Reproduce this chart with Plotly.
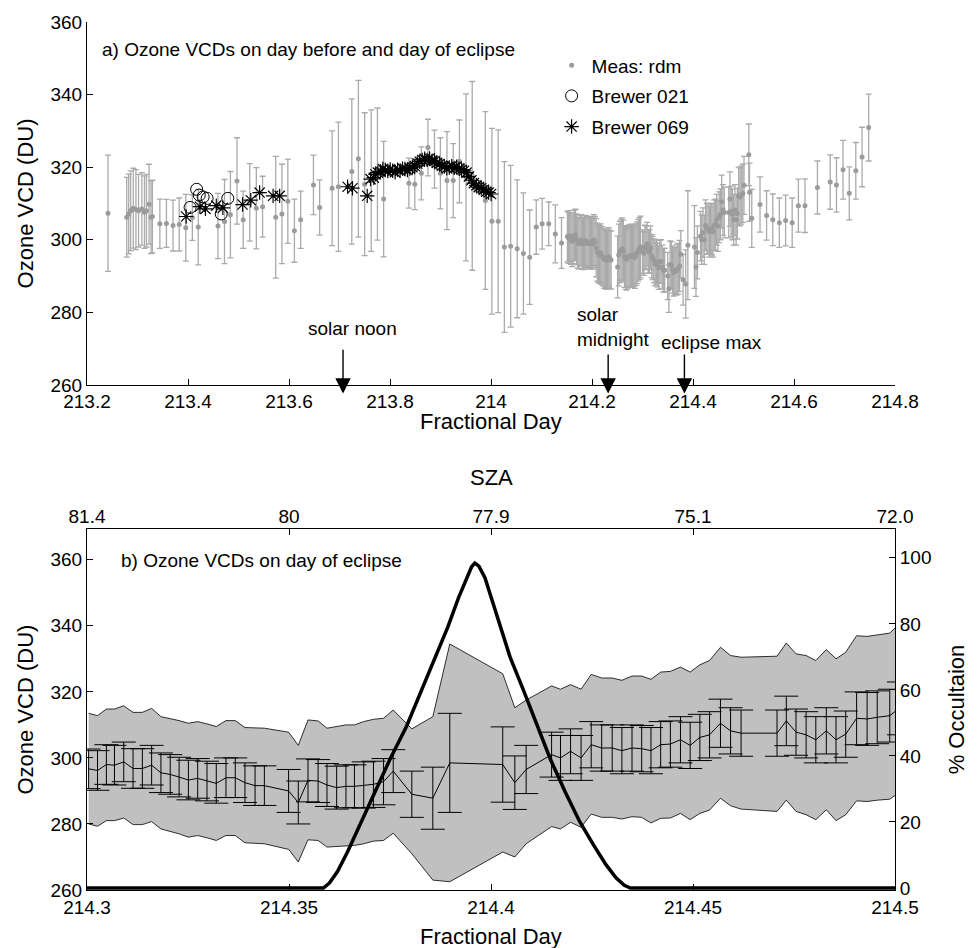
import plotly.graph_objects as go

# ---------------- Panel a: day before / day of eclipse (rdm measurements) ----------------
pre_x = [213.2416,
         213.2787, 213.2826, 213.2865, 213.2917, 213.2969, 213.3021, 213.3086, 213.3138, 213.3177, 213.3229, 213.3268, 213.3294,
         213.3443, 213.3573, 213.3703, 213.3826, 213.3956, 213.4086, 213.4203, 213.4593, 213.4723, 213.4840, 213.4970,
         213.5093, 213.5223, 213.5353, 213.5477, 213.5737, 213.5860, 213.5977, 213.6107, 213.6231, 213.6484, 213.6607,
         213.6854, 213.6978, 213.7244, 213.7374, 213.7498, 213.7628, 213.7751, 213.7874,
         213.8374, 213.8491, 213.8621, 213.8751, 213.8881, 213.8998, 213.9128, 213.9252, 213.9375, 213.9505, 213.9628,
         213.9888, 214.0018, 214.0142, 214.0265, 214.0389, 214.0519, 214.0642, 214.0766, 214.0896, 214.1013,
         214.1143, 214.1273, 214.1396,
         214.1513, 214.1536, 214.1559, 214.1582, 214.1604, 214.1627, 214.1650, 214.1673, 214.1695, 214.1718,
         214.1741, 214.1764, 214.1786, 214.1809, 214.1832, 214.1855, 214.1877, 214.1900, 214.1923, 214.1946,
         214.1968, 214.1991, 214.2014, 214.2037, 214.2059, 214.2082, 214.2105, 214.2128, 214.2150, 214.2173,
         214.2196, 214.2219, 214.2241, 214.2264, 214.2287, 214.2310, 214.2332, 214.2355, 214.2378,
         214.2507, 214.2530, 214.2553, 214.2576, 214.2598, 214.2621, 214.2644, 214.2667, 214.2689, 214.2712,
         214.2735, 214.2758, 214.2780, 214.2803, 214.2826, 214.2849, 214.2871, 214.2894, 214.2917, 214.2940, 214.2962]
pre_y = [307.3,
         306.2, 307.1, 308.0, 308.7, 308.3, 308.0, 308.5, 307.6, 308.0, 309.8, 306.2, 306.4,
         304.4, 304.5, 303.9, 304.2, 303.3, 306.1, 303.5, 303.8, 305.0, 306.9, 316.2,
         305.5, 310.3, 308.7, 309.1, 306.2, 307.1, 310.6, 302.5, 305.5, 315.1, 308.9,
         314.2, 314.6, 318.8, 322.3, 315.3, 316.3, 318.1, 311.2,
         315.6, 315.3, 318.3, 325.4, 322.2, 318.3, 316.3, 316.3, 321.6, 317.2, 317.6,
         310.8, 305.1, 305.1, 298.0, 298.2, 297.5, 296.2, 295.2, 303.5, 304.4,
         304.4, 301.6, 299.1,
         300.9, 300.5, 301.0, 300.2, 299.6, 300.4, 301.2, 301.4, 300.1, 299.2,
         298.9, 299.8, 299.9, 299.0, 298.8, 299.3, 299.7, 299.4, 298.9, 299.1,
         299.4, 299.0, 298.9, 299.9, 299.4, 297.8, 296.6, 296.2, 295.9, 296.4,
         295.6, 295.2, 294.6, 294.9, 294.3, 294.8, 295.3, 294.6, 294.4,
         292.5, 295.8, 296.6, 297.2, 297.5, 296.9, 295.4, 294.8, 294.6, 295.2,
         295.6, 295.7, 295.4, 295.8, 295.6, 295.1, 295.9, 296.4, 297.1, 297.6, 298.0]
pre_err = [16,
           11, 11, 11, 11, 11, 10, 10, 10, 10, 11, 10, 10,
           6.8, 6.6, 7, 7.3, 9.2, 6.3, 10.4, 9, 11.6, 11.9, 11.9,
           7.9, 10.7, 11.2, 8.4, 16.8, 13.7, 11.6, 8.7, 7.9, 8.2, 7.6,
           15.8, 17.8, 20, 21.6, 19.7, 19.5, 18.2, 15.9,
           6.9, 7, 7.3, 7.8, 8, 9.8, 13.5, 10.2, 11.4, 23, 26,
           24.5, 25.6, 25.2, 23.5, 22.3, 19, 16.7, 13, 7.5, 7,
           6, 8, 7,
           7, 7, 7, 7, 7, 7, 7, 7, 7, 7,
           7, 7, 7, 7, 7, 7, 7, 7, 7, 7,
           7, 7, 7, 7, 7, 8, 8, 8, 8, 8,
           8, 8, 8, 8, 8, 8, 8, 8, 8,
           8.5, 8.5, 8.5, 8.5, 8.5, 8.5, 8.5, 8.5, 8.5, 8.5,
           8.5, 8.5, 8.5, 8.5, 8.5, 8.5, 8.5, 8.5, 8.5, 8.5, 8.5]

post_x = [214.5106, 214.5119, 214.5164, 214.5327, 214.5457, 214.5580, 214.5710, 214.5834, 214.5964, 214.6087,
          214.6217, 214.6464, 214.6717, 214.6841, 214.6971, 214.7094, 214.7224, 214.7348, 214.7478]
post_y = [323.4, 313.1, 305.9, 309.7, 306.7, 305.5, 304.7, 305.3, 304.7, 309.4,
          309.4, 314.4, 315.9, 315.1, 319.3, 312.8, 319.0, 322.8, 330.9]
post_err = [8.5, 8, 8, 7.6, 6.8, 7.1, 6.8, 7, 6.8, 7.3,
            7.4, 7.3, 7.5, 7.5, 8.1, 7.3, 7.8, 8.2, 9.2]

brewer021_x = [213.4041, 213.4171, 213.4223, 213.4300, 213.4379, 213.4658, 213.4788]
brewer021_y = [308.9, 313.9, 312.3, 311.8, 311.4, 307.1, 311.4]

brewer069_x = [213.3963, 213.4236, 213.4346, 213.4560, 213.4691, 213.5080, 213.5243, 213.5418, 213.5685, 213.5815,
               213.7160, 213.7257, 213.7549, 213.7615, 213.7680,
               213.7712, 213.7761, 213.7809, 213.7858, 213.7907, 213.7956, 213.8004, 213.8053, 213.8102, 213.8151,
               213.8199, 213.8248, 213.8296, 213.8345, 213.8394, 213.8443, 213.8491, 213.8540, 213.8589, 213.8638,
               213.8686, 213.8735, 213.8784, 213.8833, 213.8881, 213.8930, 213.8979, 213.9028, 213.9076, 213.9125,
               213.9174, 213.9223, 213.9271, 213.9320, 213.9369, 213.9418, 213.9466, 213.9515, 213.9563, 213.9612,
               213.9661, 213.9710, 213.9758, 213.9807, 213.9856, 213.9905, 213.9953, 214.0002]
brewer069_y = [306.4, 309.1, 308.5, 309.4, 308.8, 309.7, 310.9, 313.0, 312.1, 312.1,
               314.6, 314.2, 312.1, 316.7, 317.1,
               318.0, 318.5, 318.8, 319.5, 319.2, 318.9, 319.4, 319.0, 318.6, 319.3,
               319.0, 319.6, 319.5, 319.2, 319.6, 320.0, 320.3, 321.0, 321.5, 322.0,
               322.3, 322.0, 322.4, 321.8, 321.7, 321.2, 320.9, 320.4, 320.2, 319.7,
               319.9, 320.3, 319.8, 320.1, 319.6, 319.3, 319.0, 318.5, 317.4, 316.4,
               315.6, 315.0, 314.5, 314.2, 313.8, 313.2, 313.0, 312.6]

# ---------------- Panel b: day of eclipse ----------------
day_x = [214.3004, 214.3026, 214.3048, 214.3068, 214.3091, 214.3114, 214.3137, 214.3160, 214.3183, 214.3206,
         214.3228, 214.3251, 214.3274, 214.3297, 214.3320, 214.3344, 214.3367, 214.3391, 214.3416, 214.3439,
         214.3499, 214.3523, 214.3547, 214.3572, 214.3594, 214.3618, 214.3641, 214.3662, 214.3685, 214.3709,
         214.3734, 214.3758, 214.3804, 214.3856, 214.3898, 214.4029, 214.4059, 214.4087, 214.4150, 214.4172,
         214.4197, 214.4223, 214.4248, 214.4274, 214.4300, 214.4324, 214.4349, 214.4373, 214.4396, 214.4420,
         214.4444, 214.4469, 214.4493, 214.4517, 214.4541, 214.4568, 214.4593, 214.4619, 214.4708, 214.4731,
         214.4755, 214.4780, 214.4804, 214.4830, 214.4854, 214.4878, 214.4905, 214.4931, 214.4956, 214.4987,
         214.5010]
day_mean = [296.7, 296.2, 298.0, 297.8, 298.8, 296.8, 296.8, 297.8, 295.5, 295.0,
            294.2, 293.3, 293.8, 293.0, 292.3, 294.0, 294.0, 292.5, 291.6, 291.6,
            290.0, 286.5, 293.2, 293.0, 291.8, 291.0, 291.4, 291.4, 291.8, 292.0,
            292.8, 296.0, 289.0, 287.8, 298.5, 298.0, 292.5, 296.5, 301.0, 300.0,
            302.0, 300.0, 304.0, 303.0, 303.0, 302.2, 303.0, 302.8, 302.2, 304.0,
            304.2, 305.5, 303.8, 306.2, 307.0, 310.5, 308.2, 307.5, 307.5, 311.2,
            307.8, 307.0, 305.5, 308.2, 305.5, 307.2, 312.0, 311.8, 312.3, 312.8,
            315.0]
day_err = [6, 6, 6, 6, 6, 6, 6, 6, 6, 6,
           6, 6, 6, 6, 6, 6, 6, 6, 6, 6,
           6.5, 6.5, 6.5, 6.5, 6.5, 6.5, 6.5, 6.5, 7, 7,
           7, 6.5, 7, 9.4, 15, 11.4, 8.1, 7.3, 6.8, 6.8,
           6.8, 6.8, 7, 7, 7, 7, 7, 7, 7, 7,
           7, 7, 7, 7, 7, 7.3, 7, 7, 7, 7.5,
           7, 7, 7, 7, 7, 7, 8, 8, 8, 8,
           8]
day_upper = [313.5, 312.8, 314.8, 314.8, 315.8, 313.8, 313.8, 315.0, 312.5, 312.0,
             311.3, 310.5, 311.0, 310.3, 309.5, 311.3, 311.3, 309.2, 309.2, 309.0,
             307.8, 303.8, 311.5, 311.2, 309.0, 309.5, 310.0, 310.0, 311.0, 311.7,
             312.0, 314.5, 308.8, 312.5, 334.5, 325.5, 315.2, 317.5, 321.8, 320.8,
             322.2, 320.8, 325.3, 324.2, 324.2, 323.5, 324.8, 324.8, 323.8, 326.0,
             326.2, 327.5, 326.0, 328.2, 329.5, 333.5, 331.0, 330.5, 330.8, 334.8,
             331.5, 331.0, 329.5, 332.8, 330.0, 332.0, 337.0, 336.8, 337.3, 337.8,
             340.5]
day_lower = [280.0, 279.3, 281.0, 281.0, 281.8, 279.8, 279.8, 280.7, 278.5, 277.8,
             277.0, 276.0, 276.5, 275.8, 275.0, 276.5, 276.5, 274.3, 274.2, 274.0,
             272.3, 268.5, 275.2, 275.0, 273.0, 273.2, 273.5, 273.5, 274.0, 274.8,
             275.0, 277.2, 271.0, 263.0, 262.5, 271.5, 270.0, 274.0, 279.2, 278.5,
             280.5, 279.0, 283.0, 282.0, 282.0, 281.5, 282.2, 282.0, 280.3, 281.7,
             281.8, 283.2, 281.3, 283.2, 284.2, 287.8, 285.5, 284.5, 283.8, 287.2,
             283.8, 282.8, 281.3, 284.3, 281.0, 282.8, 287.0, 286.8, 287.2, 287.5,
             289.5]

occ_x = [214.3000, 214.3585, 214.3600, 214.3620, 214.3645, 214.3675, 214.3709, 214.3750, 214.3791, 214.3825,
         214.3860, 214.3893, 214.3920, 214.3940, 214.3952, 214.3960, 214.3970, 214.3985, 214.4000, 214.4020,
         214.4047, 214.4080, 214.4111, 214.4147, 214.4184, 214.4220, 214.4254, 214.4285, 214.4310, 214.4330,
         214.4345, 214.5000]
occ_y = [0, 0, 1.5, 5, 11, 19, 28, 39, 49, 59,
         69, 79, 88, 94, 97.3, 98.4, 97.5, 94, 88, 80,
         70, 60, 50, 39, 29, 20, 13, 7, 3, 0.8,
         0, 0]

x_ticks_a = [213.2, 213.4, 213.6, 213.8, 214.0, 214.2, 214.4, 214.6, 214.8]
x_ticktext_a = ["213.2", "213.4", "213.6", "213.8", "214", "214.2", "214.4", "214.6", "214.8"]
x_ticks_b = [214.3, 214.35, 214.4, 214.45, 214.5]
x_ticktext_b = ["214.3", "214.35", "214.4", "214.45", "214.5"]
sza_ticktext = ["81.4", "80", "77.9", "75.1", "72.0"]

events_x = [213.707, 214.232, 214.383]
events_label = ["solar noon", "solar<br>midnight", "eclipse max"]

# ------------------------------------------------------------------
FONT = "Liberation Sans, Arial, Helvetica, sans-serif"
GREY = "rgb(155,155,155)"
BAR_GREY = "rgb(170,170,170)"
TITLE_SIZE = 22

meas_x = pre_x + day_x + post_x
meas_y = pre_y + day_mean + post_y
meas_err = pre_err + day_err + post_err

fig = go.Figure()

fig.add_trace(go.Scatter(
    x=meas_x, y=meas_y, mode="markers", name="Meas: rdm",
    marker=dict(color=GREY, size=5),
    error_y=dict(type="data", array=meas_err, color=BAR_GREY, thickness=1.3, width=3),
    xaxis="x", yaxis="y", legendgroup="a"))
fig.add_trace(go.Scatter(
    x=brewer021_x, y=brewer021_y, mode="markers", name="Brewer 021",
    marker=dict(symbol="circle-open", color="black", size=12, line=dict(width=1)),
    xaxis="x", yaxis="y", legendgroup="b"))
fig.add_trace(go.Scatter(
    x=brewer069_x, y=brewer069_y, mode="markers", name="Brewer 069",
    marker=dict(symbol="asterisk-open", color="black", size=12, line=dict(width=1.2, color="black")),
    xaxis="x", yaxis="y", legendgroup="c"))

# panel b band
fig.add_trace(go.Scatter(x=day_x, y=day_lower, mode="lines", line=dict(color="black", width=0.8),
                         showlegend=False, xaxis="x2", yaxis="y2", hoverinfo="skip"))
fig.add_trace(go.Scatter(x=day_x, y=day_upper, mode="lines", line=dict(color="black", width=0.8),
                         fill="tonexty", fillcolor="rgb(192,192,192)",
                         showlegend=False, xaxis="x2", yaxis="y2", hoverinfo="skip"))
fig.add_trace(go.Scatter(x=day_x, y=day_mean, mode="lines", line=dict(color="black", width=1),
                         error_y=dict(type="data", array=day_err, color="black", thickness=1, width=12),
                         showlegend=False, xaxis="x2", yaxis="y2"))
fig.add_trace(go.Scatter(x=occ_x, y=occ_y, mode="lines", line=dict(color="black", width=3.5),
                         showlegend=False, xaxis="x2", yaxis="y3"))
# SZA axis carrier
fig.add_trace(go.Scatter(x=[x_ticks_b[0], x_ticks_b[-1]], y=[None, None], mode="markers",
                         showlegend=False, xaxis="x3", yaxis="y2", hoverinfo="skip"))

axis_common = dict(showline=True, linecolor="black", linewidth=1, ticks="inside", ticklen=6,
                   tickcolor="black", showgrid=False, zeroline=False,
                   tickfont=dict(size=19, family=FONT, color="black"))

YA_DOM = [0.5819, 1.0]
YB_DOM = [0.0, 0.4158]

fig.update_layout(
    width=977, height=948,
    margin=dict(l=87, r=70, t=17, b=58),
    paper_bgcolor="white", plot_bgcolor="white",
    font=dict(family=FONT, size=19, color="black"),
    showlegend=True,
    legend=dict(x=0.575, y=0.972, xanchor="left", yanchor="top", bgcolor="rgba(0,0,0,0)",
                font=dict(size=19), tracegroupgap=3, traceorder="grouped"),
    xaxis=dict(domain=[0, 1], anchor="y", range=[213.2, 214.8], tickvals=x_ticks_a, ticktext=x_ticktext_a,
               ticklabelstandoff=-1, **axis_common),
    yaxis=dict(domain=YA_DOM, anchor="x", range=[260, 360], dtick=20,
               title=dict(text="Ozone VCD (DU)", standoff=10, font=dict(size=TITLE_SIZE)), **axis_common),
    xaxis2=dict(domain=[0, 1], anchor="y2", range=[214.3, 214.5], tickvals=x_ticks_b, ticktext=x_ticktext_b,
                ticklabelstandoff=0, **axis_common),
    yaxis2=dict(domain=YB_DOM, anchor="x2", range=[260, 369.3], tickvals=[260, 280, 300, 320, 340, 360],
                title=dict(text="Ozone VCD (DU)", standoff=10, font=dict(size=TITLE_SIZE)), **axis_common),
    yaxis3=dict(overlaying="y2", anchor="x2", side="right", range=[-0.6, 108.7], tickvals=[0, 20, 40, 60, 80, 100],
                title=dict(text="% Occultaion", standoff=18, font=dict(size=TITLE_SIZE)), **axis_common),
    xaxis3=dict(overlaying="x2", anchor="y2", side="top", range=[214.3, 214.5], tickvals=x_ticks_b,
                ticktext=sza_ticktext, ticklabelstandoff=-3, **axis_common),
)

annotations = [
    dict(text="Fractional Day", xref="paper", yref="paper", x=0.5, y=0.5395, xanchor="center",
         yanchor="middle", showarrow=False, font=dict(size=TITLE_SIZE)),
    dict(text="Fractional Day", xref="paper", yref="paper", x=0.5, y=-0.0538, xanchor="center",
         yanchor="middle", showarrow=False, font=dict(size=TITLE_SIZE)),
    dict(text="SZA", xref="paper", yref="paper", x=0.5, y=0.4754, xanchor="center",
         yanchor="middle", showarrow=False, font=dict(size=TITLE_SIZE)),
    dict(text="a) Ozone VCDs on day before and day of eclipse", xref="paper", yref="paper",
         x=0.016, y=0.968, xanchor="left", yanchor="middle", showarrow=False, font=dict(size=19)),
    dict(text="b) Ozone VCDs on day of eclipse", xref="paper", yref="paper",
         x=0.040, y=0.380, xanchor="left", yanchor="middle", showarrow=False, font=dict(size=19)),
    dict(text=events_label[0], xref="x", yref="y", x=213.7263, y=275.6, xanchor="center", yanchor="middle",
         showarrow=False, font=dict(size=19)),
    dict(text=events_label[1], xref="x", yref="y", x=214.1669, y=276.0, xanchor="left", yanchor="middle",
         align="left", showarrow=False, font=dict(size=19)),
    dict(text=events_label[2], xref="x", yref="y", x=214.4368, y=271.8, xanchor="center", yanchor="middle",
         showarrow=False, font=dict(size=19)),
]
tails = [270.1, 268.8, 268.8]
for ex, ty in zip(events_x, tails):
    annotations.append(dict(text="", xref="x", yref="y", axref="x", ayref="y", x=ex, y=257.6, ax=ex, ay=ty,
                            showarrow=True, arrowhead=2, arrowsize=2.2, arrowwidth=1.4, arrowcolor="black"))
fig.update_layout(annotations=annotations)

fig.write_html("out.html", config={"displayModeBar": False},
               post_script="document.body.style.margin='0px';document.body.style.overflow='hidden';")
